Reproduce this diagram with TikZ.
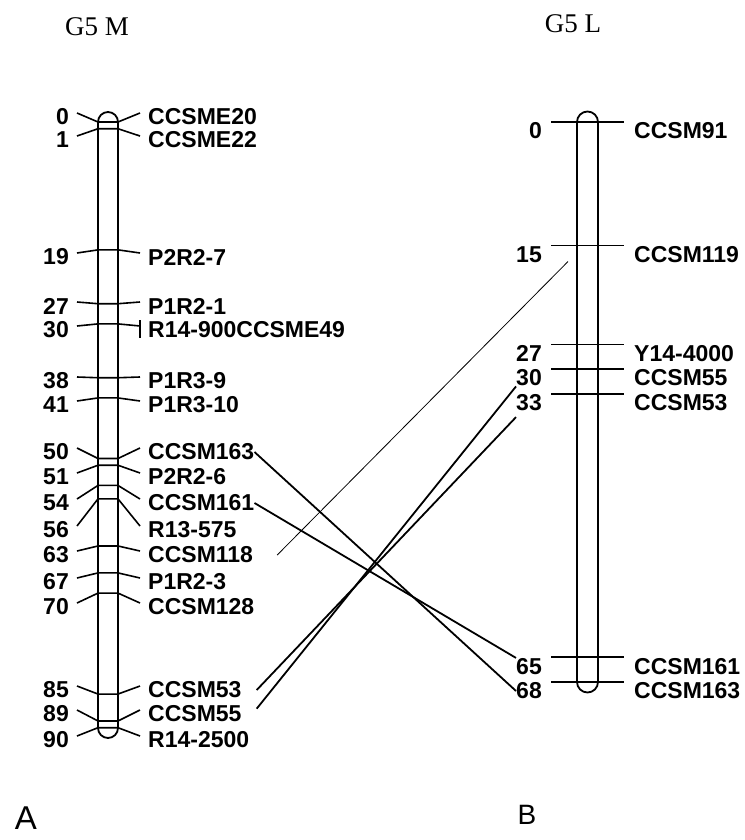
\documentclass[tikz,border=0pt]{standalone}
\usepackage{fontspec}
\setmainfont{Liberation Serif}
\setsansfont{Liberation Sans}
\usetikzlibrary{positioning}

\begin{document}
\begin{tikzpicture}[
        x=1pt, y=-1pt,
        mapline/.style={
            line width=1.8pt
        },
        tick/.style={
            line width=1.6pt
        },
        link/.style={
            line width=1.8pt
        },
        thinlink/.style={
            line width=0.8pt
        },
        num/.style={
            inner sep=0pt,
            anchor=east,
            font=\sffamily\bfseries\fontsize{23}{23}\selectfont
        },
        marker/.style={
            inner sep=0pt,
            anchor=west,
            font=\sffamily\bfseries\fontsize{23}{23}\selectfont
        },
        maptitle/.style={
            inner sep=0pt,
            font=\rmfamily\fontsize{27}{27}\selectfont
        }
    ]
        \useasboundingbox (0,0) rectangle (744,840);

        % Tytuly map
        \node[maptitle] (titleM) at (97,27) {G5 M};
        \node[maptitle] (titleL) at (573,24) {G5 L};

        % Chromosom G5 M
        \draw[mapline] (98,728) -- (98,122) arc[start angle=180, end angle=360, radius=10]
            -- (118,728) arc[start angle=0, end angle=180, radius=10] -- cycle;

        \foreach \cm/\ty/\name in {0/117/CCSME20, 1/140/CCSME22, 19/257/P2R2-7,
                27/306/P1R2-1, 30/330/R14-900CCSME49, 38/381/P1R3-9, 41/405/P1R3-10,
                50/452/CCSM163, 51/477/P2R2-6, 54/503/CCSM161, 56/530/R13-575,
                63/555/CCSM118, 67/582/P1R2-3, 70/607/CCSM128, 85/690/CCSM53,
                89/714/CCSM55, 90/740/R14-2500} {
            \pgfmathsetmacro\by{122+6.73*\cm}
            \coordinate (lb\cm) at (108,\by);
            \node[num] (ln\cm) at (69,\ty) {\cm};
            \node[marker] (lm\cm) at (148,\ty) {\name};
            \draw[tick] ([xshift=8pt, yshift=4pt]ln\cm.east) -- ([xshift=-10pt]lb\cm)
                -- ([xshift=10pt]lb\cm) -- ([xshift=-8pt, yshift=4pt]lm\cm.west);
        }
        \draw[tick] ([xshift=-8pt]lm30.west) ++(0,-10) -- ++(0,18);

        % Chromosom G5 L
        \draw[mapline] (577,682) -- (577,122) arc[start angle=180, end angle=360, radius=10.5]
            -- (598,682) arc[start angle=0, end angle=180, radius=10.5] -- cycle;

        \foreach \cm/\name in {0/CCSM91, 15/CCSM119, 27/Y14-4000, 30/CCSM55,
                33/CCSM53, 65/CCSM161, 68/CCSM163} {
            \pgfmathsetmacro\ty{131+8.235*\cm}
            \node[num] (rn\cm) at (542,\ty) {\cm};
            \node[marker] (rm\cm) at (634,\ty) {\name};
            \draw[tick] ([xshift=9pt, yshift=9pt]rn\cm.east) -- ([xshift=-10pt, yshift=9pt]rm\cm.west);
        }

        % Polaczenia miedzy mapami
        \draw[link] (lm50.east) -- (rn68.west);
        \draw[link] (lm54.east) -- (rn65.north west);
        \draw[link] ([xshift=15pt]lm85.east) -- ([yshift=-6pt]rn33.south west);
        \draw[link] ([xshift=15pt, yshift=-3pt]lm89.north east) -- (rn30.south west);
        \draw[thinlink] ([xshift=24pt]lm63.east) -- ([xshift=26pt, yshift=-7pt]rn15.east);

        % Oznaczenia paneli
        \node[inner sep=0pt, font=\sffamily\fontsize{33}{33}\selectfont] (panelA) at (26,818) {A};
        \node[inner sep=0pt, font=\sffamily\fontsize{28}{28}\selectfont] (panelB) at (527,815) {B};

    \end{tikzpicture}
\end{document}
